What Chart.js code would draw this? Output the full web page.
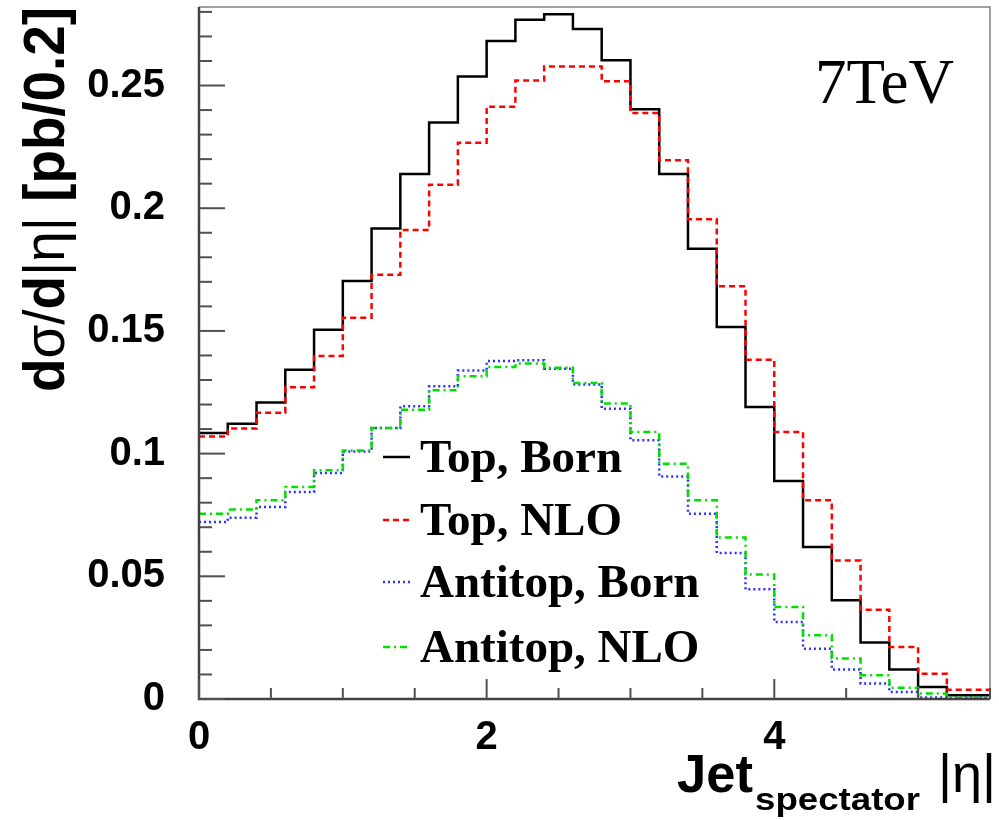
<!DOCTYPE html>
<html>
<head>
<meta charset="utf-8">
<script src="https://cdn.jsdelivr.net/npm/chart.js@4.4.1/dist/chart.umd.min.js"></script>
<style>
 html,body{margin:0;padding:0;background:#fff;}
</style>
</head>
<body>
<canvas id="c" width="999" height="820"></canvas>
<script>
// bin edges of |eta| (bin width 0.2)
const binEdges = [0,0.2,0.4,0.6,0.8,1.0,1.2,1.4,1.6,1.8,2.0,2.2,2.4,2.6,2.8,3.0,3.2,3.4,3.6,3.8,4.0,4.2,4.4,4.6,4.8,5.0,5.2,5.4,5.6];

const topBorn  = [0.1084,0.1122,0.1208,0.1342,0.1505,0.1703,0.1917,0.2139,0.2349,0.2537,0.2681,0.2768,0.2790,0.2730,0.2603,0.2403,0.2139,0.1835,0.1516,0.1190,0.0888,0.0619,0.0402,0.0230,0.0120,0.0049,0.0015,0.0015];
const topNLO   = [0.1070,0.1102,0.1167,0.1270,0.1398,0.1554,0.1729,0.1911,0.2096,0.2267,0.2414,0.2520,0.2578,0.2578,0.2517,0.2388,0.2195,0.1955,0.1682,0.1383,0.1088,0.0810,0.0564,0.0364,0.0212,0.0103,0.0038,0.0038];
const antiBorn = [0.0721,0.0739,0.0782,0.0844,0.0921,0.1009,0.1104,0.1193,0.1274,0.1339,0.1377,0.1380,0.1346,0.1282,0.1183,0.1054,0.0907,0.0755,0.0595,0.0447,0.0314,0.0205,0.0120,0.0063,0.0029,0.0006,0.0005,0.0005];
const antiNLO  = [0.0755,0.0772,0.0810,0.0864,0.0932,0.1013,0.1104,0.1179,0.1258,0.1315,0.1353,0.1367,0.1350,0.1288,0.1204,0.1088,0.0959,0.0810,0.0658,0.0507,0.0375,0.0260,0.0165,0.0097,0.0046,0.0022,0.0005,0.0005];

const seriesNames = ["Top, Born","Top, NLO","Antitop, Born","Antitop, NLO"];
const yTicks = [0,0.05,0.1,0.15,0.2,0.25];
const yTickLabels = ["0","0.05","0.1","0.15","0.2","0.25"];
const xTicks = [0,2,4];
const xTickLabels = ["0","2","4"];

// histogram -> step points (left edges + closing right edge)
function steps(vals){
 const pts = vals.map((v,i) => ({x:binEdges[i], y:v}));
 pts.push({x:binEdges[vals.length], y:vals[vals.length-1]});
 return pts;
}

// 'before' in chart.js = horizontal first, then vertical -> value held over the bin
function ds(i, vals, color, dash, width, order){
 return { label:seriesNames[i], data:steps(vals), borderColor:color, borderWidth:width,
   borderDash:dash, stepped:'before', pointRadius:0, fill:false, order:order };
}

const sans = "'Liberation Sans', Arial, sans-serif";
const serif = "'Liberation Serif', 'Times New Roman', serif";

// no auto padding for labels, keep the frame where ROOT put it
function noPad(s){ s.paddingTop = 0; s.paddingBottom = 0; s.paddingLeft = 0; s.paddingRight = 0; }

// frame, inner ticks, titles and legend in ROOT style
const rootStyle = {
 id:'rootStyle',
 afterDatasetsDraw(chart){
  const ctx = chart.ctx, a = chart.chartArea;
  const xs = chart.scales.x, ys = chart.scales.y;
  ctx.save();
  // frame
  ctx.strokeStyle = '#808080'; ctx.lineWidth = 1.5;
  ctx.beginPath(); ctx.moveTo(a.left, a.top); ctx.lineTo(a.right, a.top); ctx.lineTo(a.right, a.bottom); ctx.stroke();
  ctx.strokeStyle = '#404040'; ctx.lineWidth = 2.5;
  ctx.beginPath(); ctx.moveTo(a.left, a.top); ctx.lineTo(a.left, a.bottom); ctx.lineTo(a.right, a.bottom); ctx.stroke();

  // y ticks (minor 0.01, major 0.05)
  ctx.lineWidth = 2; ctx.strokeStyle = '#505050';
  for(let k=0; k<=28; k++){
   const py = ys.getPixelForValue(k*0.01);
   if(py < a.top) continue;
   const len = (k%5===0) ? 26 : 13;
   ctx.beginPath(); ctx.moveTo(a.left, py); ctx.lineTo(a.left+len, py); ctx.stroke();
  }
  // x ticks (minor 0.5, major 2)
  for(let k=0; k<=11; k++){
   const px = xs.getPixelForValue(k*0.5);
   const len = (k%4===0) ? 20 : 11;
   ctx.beginPath(); ctx.moveTo(px, a.bottom); ctx.lineTo(px, a.bottom-len); ctx.stroke();
  }

  ctx.fillStyle = '#000';
  // 7TeV
  ctx.font = "63px " + serif;
  ctx.textBaseline = 'alphabetic'; ctx.textAlign = 'left';
  ctx.fillText("7TeV", 815, 103);

  // y title: d sigma / d |eta| [pb/0.2]
  const segs = [["d","bold"],["σ/","normal"],["d","bold"],["|η|","normal"],[" [pb/0.2]","bold"]];
  const fs = 58;
  let total = 0;
  segs.forEach(s => { ctx.font = s[1]+" "+fs+"px "+sans; total += ctx.measureText(s[0]).width; });
  ctx.save();
  ctx.translate(64, 392);
  ctx.rotate(-Math.PI/2);
  ctx.scale(385/total, 1);
  let cx = 0;
  segs.forEach(s => { ctx.font = s[1]+" "+fs+"px "+sans; ctx.fillText(s[0], cx, 0); cx += ctx.measureText(s[0]).width; });
  ctx.restore();

  // x title: Jet_spectator |eta|
  ctx.save();
  ctx.font = "bold 54px " + sans;
  const wj = ctx.measureText("Jet").width;
  ctx.translate(677, 792); ctx.scale(76/wj, 1);
  ctx.fillText("Jet", 0, 0);
  ctx.restore();
  ctx.save();
  ctx.font = "bold 31px " + sans;
  const w = ctx.measureText("spectator").width;
  ctx.translate(755, 810); ctx.scale(165/w, 1);
  ctx.fillText("spectator", 0, 0);
  ctx.restore();
  ctx.font = "54px " + sans;
  ctx.fillText("|η|", 938, 792);

  // legend
  const rows = [472, 535, 597, 662];
  chart.data.datasets.forEach((d, i) => {
   const y = rows[i] - 15;
   ctx.save();
   ctx.strokeStyle = d.borderColor; ctx.lineWidth = d.borderWidth;
   ctx.setLineDash(d.borderDash || []);
   ctx.beginPath(); ctx.moveTo(383, y); ctx.lineTo(410, y); ctx.stroke();
   ctx.restore();
   ctx.font = "bold 47px " + serif;
   ctx.fillStyle = '#000';
   ctx.fillText(d.label, 420, rows[i]);
  });
  ctx.restore();
 }
};

new Chart(document.getElementById('c'), {
 type:'line',
 data:{ datasets:[
  ds(0, topBorn,  '#000000', [],          2.5, 3),
  ds(1, topNLO,   '#ff0000', [6,4],       2.5, 2),
  ds(2, antiBorn, '#3030ff', [2,3],       2.5, 1),
  ds(3, antiNLO,  '#00e000', [7,4,2,4],   2.5, 0)
 ]},
 options:{
  responsive:false,
  animation:false,
  devicePixelRatio:1,
  layout:{ padding:{ left:0, right:9, top:7, bottom:0 } },
  plugins:{ legend:{display:false}, tooltip:{enabled:false} },
  scales:{
   x:{
    type:'linear', min:0, max:5.5,
    afterBuildTicks: s => { s.ticks = xTicks.map(v => ({value:v})); },
    afterFit: s => { s.height = 121; noPad(s); },
    ticks:{ callback:(v,i) => xTickLabels[i], autoSkip:false, maxRotation:0, padding:7,
      color:'#000', font:{ family:sans, weight:'bold', size:40 } },
    grid:{ display:false }, border:{ display:false }
   },
   y:{
    type:'linear', min:0, max:0.282,
    afterBuildTicks: s => { s.ticks = yTicks.map(v => ({value:v})); },
    afterFit: s => { s.width = 199; noPad(s); },
    ticks:{ callback:(v,i) => yTickLabels[i], autoSkip:false, padding:26,
      color:'#000', font:{ family:sans, weight:'bold', size:40 } },
    grid:{ display:false }, border:{ display:false }
   }
  }
 },
 plugins:[rootStyle]
});
</script>
</body>
</html>
